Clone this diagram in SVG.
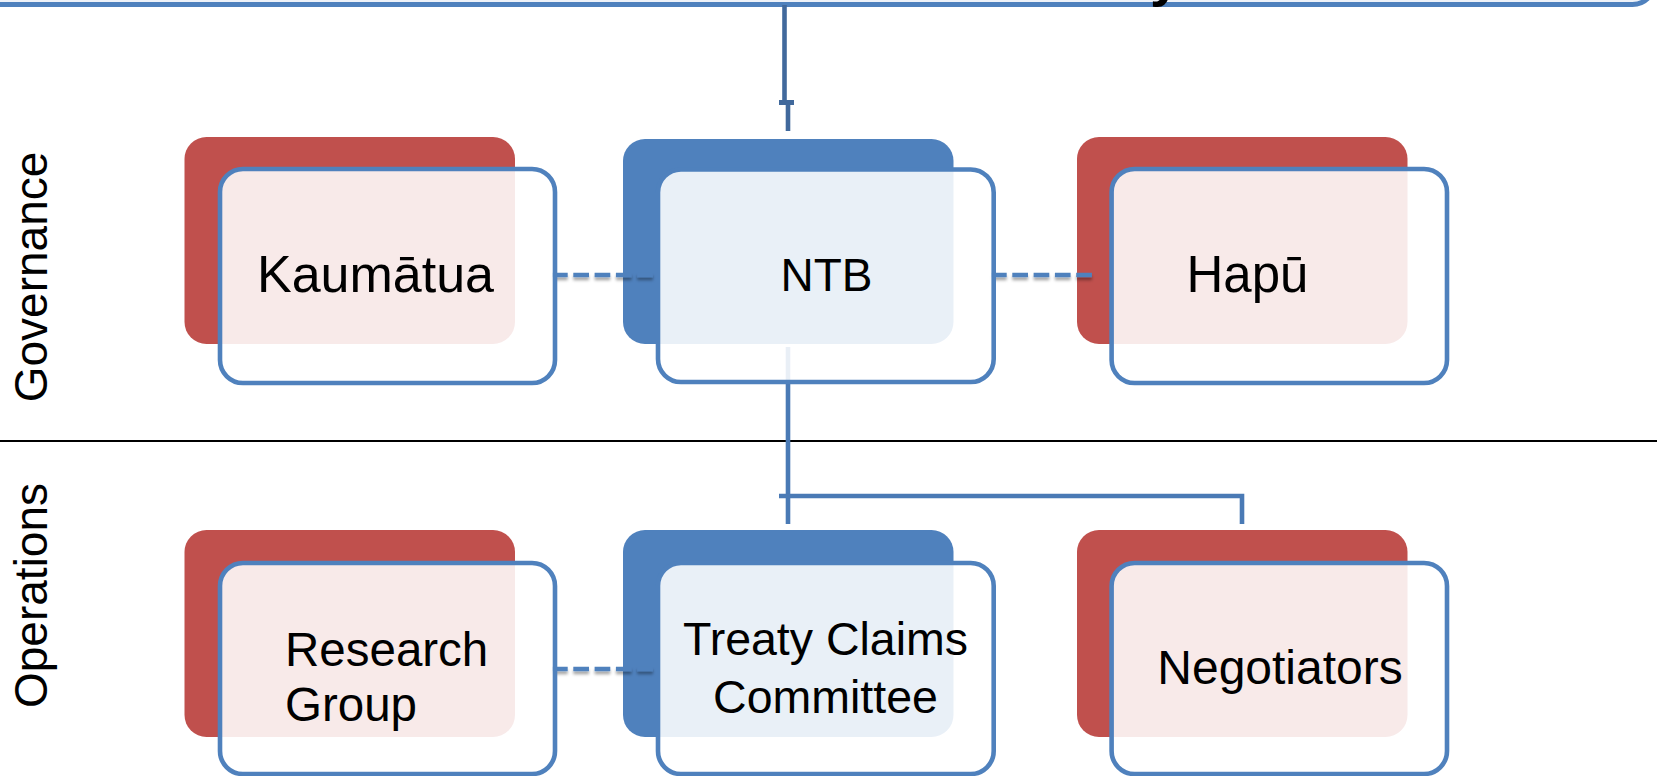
<svg xmlns="http://www.w3.org/2000/svg" width="1663" height="776" viewBox="0 0 1663 776">
<style>
  .back-red { fill: #C0504D; }
  .back-blue { fill: #4F81BD; }
  .front { fill: #FFFFFF; fill-opacity: 0.88; stroke: #4F81BD; stroke-width: 4.6; }
  .lbl { font-family: "Liberation Sans", Arial, sans-serif; fill: #000000; }
  .conn { fill: none; stroke: #4A7AB5; stroke-width: 4.6; }
  .dash { fill: none; stroke: #4F81BD; stroke-width: 4.6; stroke-dasharray: 15.7 5.6; }
</style>
<defs>
  <filter id="sh" filterUnits="userSpaceOnUse" x="0" y="0" width="1663" height="776">
    <feDropShadow dx="0" dy="3" stdDeviation="1.6" flood-color="#000000" flood-opacity="0.35"/>
  </filter>
</defs>
<rect width="1663" height="776" fill="#FFFFFF"/>

<!-- title box (mostly off the top edge) -->
<g id="title">
  <rect x="-30" y="-100" width="1684.5" height="104.5" rx="22" fill="#EEF2F8" stroke="#4F81BD" stroke-width="5"/>
  <text x="1150" y="-5" class="lbl" font-size="56" font-weight="bold">y</text>
</g>

<!-- swimlane divider -->
<line x1="0" y1="441" x2="1657" y2="441" stroke="#000000" stroke-width="2"/>

<g id="lane-governance"><text class="lbl" font-size="46" text-anchor="middle" transform="translate(47 277) rotate(-90)">Governance</text></g>
<g id="lane-operations"><text class="lbl" font-size="46" text-anchor="middle" transform="translate(47 595.5) rotate(-90)">Operations</text></g>

<!-- back plates -->
<g id="backs">
  <rect class="back-red" x="184.5" y="137" width="330.5" height="207" rx="22"/>
  <rect class="back-blue" x="623" y="139" width="330.5" height="205" rx="22"/>
  <rect class="back-red" x="1077" y="137" width="330.5" height="207" rx="22"/>
  <rect class="back-red" x="184.5" y="530" width="330.5" height="207" rx="22"/>
  <rect class="back-blue" x="623" y="530" width="330.5" height="207" rx="22"/>
  <rect class="back-red" x="1077" y="530" width="330.5" height="207" rx="22"/>
</g>

<!-- connectors -->
<g id="connectors">
  <path d="M784.5 5 V102" fill="none" stroke="#41699C" stroke-width="4.6"/>
  <rect x="779" y="100" width="15" height="5" fill="#41699C"/>
  <path d="M788 103 V131" fill="none" stroke="#41699C" stroke-width="4.6"/>
  <path class="conn" d="M788 347 V524"/>
  <path class="conn" d="M779 496 H1242 V524"/>
  <g filter="url(#sh)">
    <path class="dash" d="M552 275 H653"/>
    <path class="dash" d="M991 275 H1092"/>
    <path class="dash" d="M552 669 H653"/>
  </g>
</g>

<g id="kaumatua">
  <rect class="front" x="220" y="169" width="335" height="214" rx="23"/>
  <text class="lbl" x="375.5" y="292" font-size="52" text-anchor="middle">Kaumātua</text>
</g>
<g id="ntb">
  <rect class="front" x="658" y="169.5" width="335.7" height="212.5" rx="23"/>
  <text class="lbl" x="826.5" y="290.7" font-size="46" text-anchor="middle">NTB</text>
</g>
<g id="hapu">
  <rect class="front" x="1111.6" y="169" width="335.4" height="214" rx="23"/>
  <text class="lbl" x="1247.5" y="291.7" font-size="51" text-anchor="middle">Hapū</text>
</g>
<g id="research-group">
  <rect class="front" x="220" y="563" width="335" height="211" rx="23"/>
  <text class="lbl" font-size="47.5"><tspan x="285" y="665.7">Research</tspan><tspan x="285" y="721">Group</tspan></text>
</g>
<g id="treaty-claims-committee">
  <rect class="front" x="658" y="563" width="335.7" height="211" rx="23"/>
  <text class="lbl" font-size="46.5" text-anchor="middle"><tspan x="825.5" y="655">Treaty Claims</tspan><tspan x="825.5" y="713.3">Committee</tspan></text>
</g>
<g id="negotiators">
  <rect class="front" x="1111.6" y="563" width="335.4" height="211" rx="23"/>
  <text class="lbl" x="1280" y="684.3" font-size="48" text-anchor="middle">Negotiators</text>
</g>
</svg>
